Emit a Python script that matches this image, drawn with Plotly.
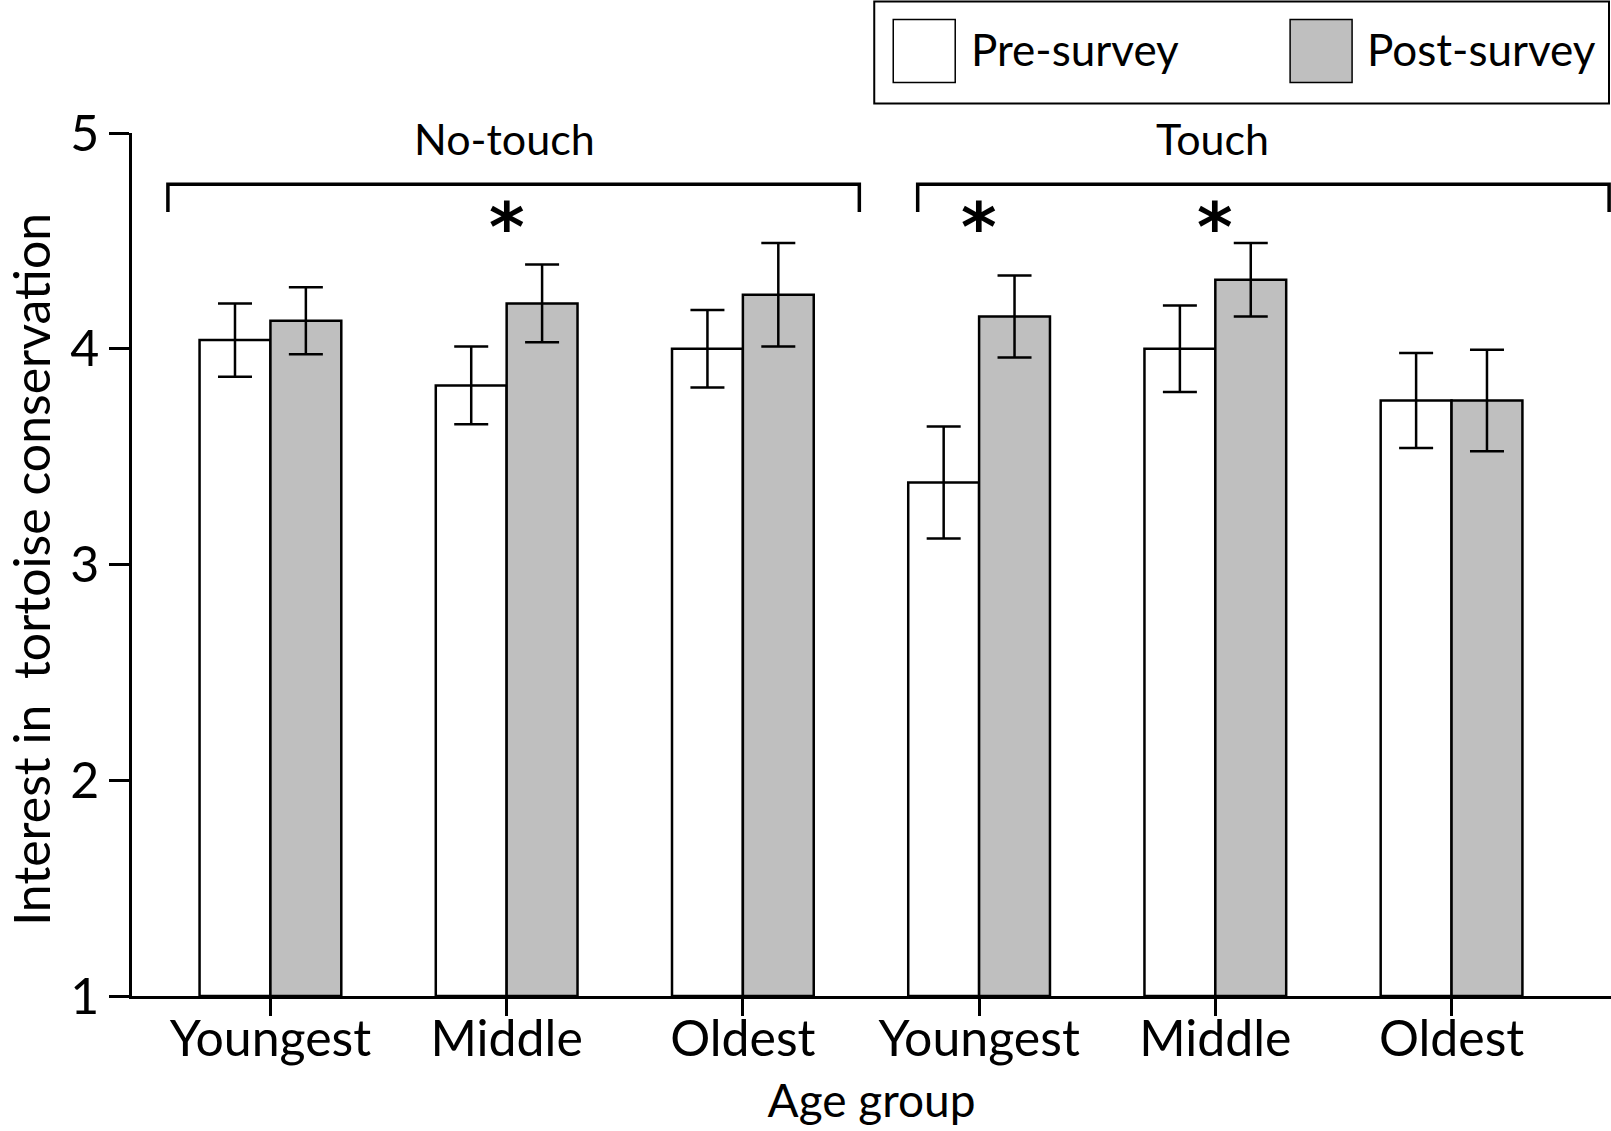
import plotly.graph_objects as go

# ---- data ----
categories = ["Youngest", "Middle", "Oldest", "Youngest ", "Middle ", "Oldest "]
tick_text = ["Youngest", "Middle", "Oldest", "Youngest", "Middle", "Oldest"]
pre_mean = [4.04, 3.83, 4.00, 3.38, 4.00, 3.76]
pre_err = [0.17, 0.18, 0.18, 0.26, 0.20, 0.22]
post_mean = [4.13, 4.21, 4.25, 4.15, 4.32, 3.76]
post_err = [0.155, 0.18, 0.24, 0.19, 0.17, 0.235]
group_labels = ["No-touch", "Touch"]
group_label_at = ["Middle", "Middle "]
series_names = ["Pre-survey", "Post-survey"]
sig_categories = ["Middle", "Youngest ", "Middle "]
y_title = "Interest in  tortoise conservation"
x_title = "Age group"

FONT = "Lato"
W, H = 1611, 1131
L, R, T, B = 131.5, 0, 132.5, 135

fig = go.Figure()
fig.add_trace(go.Bar(
    x=categories, y=[m - 1 for m in pre_mean], base=1, name=series_names[0],
    marker=dict(color="white", line=dict(color="black", width=2.5)),
    error_y=dict(type="data", array=pre_err, color="black", thickness=2.5, width=17),
    showlegend=False,
))
fig.add_trace(go.Bar(
    x=categories, y=[m - 1 for m in post_mean], base=1, name=series_names[1],
    marker=dict(color="#BFBFBF", line=dict(color="black", width=2.5)),
    error_y=dict(type="data", array=post_err, color="black", thickness=2.5, width=17),
    showlegend=False,
))

cat_index = {c: i for i, c in enumerate(categories)}

# brackets for groups
brackets = [(-0.434, 2.493), (2.740, 5.667)]
y_top, y_drop = 4.762, 4.634
for (a, b), lab, at in zip(brackets, group_labels, group_label_at):
    fig.add_shape(type="path", xref="x", yref="y",
                  path=f"M {a},{y_drop} L {a},{y_top} L {b},{y_top} L {b},{y_drop}",
                  line=dict(color="black", width=3.5))
    fig.add_annotation(x=cat_index[at] - 0.01, y=4.975, xref="x", yref="y", text=lab,
                       showarrow=False, font=dict(family=FONT, size=43, color="black"))

for c in sig_categories:
    fig.add_annotation(x=cat_index[c], y=4.56, xref="x", yref="y", text="<b>*</b>",
                       showarrow=False, font=dict(family="DejaVu Sans", size=68, color="black"))

# custom legend
def px_x(p):
    return (p - L) / (W - L - R)

def px_y(p):
    return (H - B - p) / (H - B - T)

fig.add_shape(type="rect", xref="paper", yref="paper",
              x0=px_x(874), x1=px_x(1609), y0=px_y(103), y1=px_y(1),
              line=dict(color="black", width=2), fillcolor="rgba(0,0,0,0)")
for (sx0, sx1, tx), name, col in zip([(893, 955, 969), (1290, 1352, 1365)], series_names, ["white", "#BFBFBF"]):
    fig.add_shape(type="rect", xref="paper", yref="paper",
                  x0=px_x(sx0), x1=px_x(sx1), y0=px_y(82), y1=px_y(19),
                  line=dict(color="black", width=1.5), fillcolor=col)
    fig.add_annotation(x=px_x(tx), y=px_y(48), xref="paper", yref="paper", text=name,
                       xanchor="left", yanchor="middle", showarrow=False,
                       font=dict(family=FONT, size=44, color="black"))

# y-axis title
fig.add_annotation(x=px_x(31), y=px_y(569), xref="paper", yref="paper", text=y_title,
                   textangle=-90, xanchor="center", yanchor="middle", showarrow=False,
                   borderpad=0, font=dict(family=FONT, size=50, color="black"))

fig.update_layout(
    width=W, height=H,
    margin=dict(l=L, r=R, t=T, b=B),
    plot_bgcolor="white", paper_bgcolor="white",
    barmode="group", bargap=0.4, bargroupgap=0,
    font=dict(family=FONT, color="black"),
)
fig.update_xaxes(
    type="category", range=[-0.586, 5.675],
    tickvals=categories, ticktext=tick_text,
    showline=True, linecolor="black", linewidth=2.5,
    ticks="outside", ticklen=17, tickwidth=2.5, tickcolor="black",
    tickfont=dict(family=FONT, size=50), ticklabelstandoff=-20,
    title=dict(text=x_title, font=dict(family=FONT, size=46), standoff=20),
    showgrid=False, zeroline=False,
)
fig.update_yaxes(
    range=[1, 5], tickvals=[1, 2, 3, 4, 5],
    showline=True, linecolor="black", linewidth=2.5,
    ticks="outside", ticklen=20, tickwidth=2.5, tickcolor="black",
    tickfont=dict(family=FONT, size=50),
    showgrid=False, zeroline=False,
)

fig.write_html("out.html")
